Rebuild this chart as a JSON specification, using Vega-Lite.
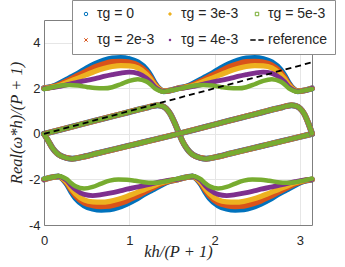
{
  "$schema": "https://vega.github.io/schema/vega-lite/v6.json",
  "width": 268,
  "height": 205,
  "autosize": "none",
  "padding": {"left": 44, "top": 20, "right": 33, "bottom": 42},
  "background": "white",
  "config": {
    "view": {"stroke": "#7f7f7f", "strokeWidth": 1},
    "axis": {
      "labelFont": "Liberation Sans",
      "labelFontSize": 13,
      "labelColor": "#262626",
      "titleFont": "Liberation Serif",
      "titleFontStyle": "italic",
      "titleFontWeight": "normal",
      "titleFontSize": 16.5,
      "titleColor": "#262626",
      "domainColor": "#7f7f7f",
      "gridColor": "#e6e6e6",
      "grid": true,
      "ticks": false
    }
  },
  "layer": [
    {
      "data": {
        "values": [
          {"b": "U", "x": 0, "t0": 2.0, "t2": 2.0, "t3": 2.0, "t4": 2.0, "t5": 1.97},
          {"b": "U", "x": 0.1, "t0": 2.08, "t2": 2.07, "t3": 2.05, "t4": 2.03, "t5": 2.05},
          {"b": "U", "x": 0.2, "t0": 2.25, "t2": 2.2, "t3": 2.15, "t4": 2.1, "t5": 2.12},
          {"b": "U", "x": 0.3, "t0": 2.45, "t2": 2.38, "t3": 2.3, "t4": 2.18, "t5": 2.15},
          {"b": "U", "x": 0.4, "t0": 2.65, "t2": 2.57, "t3": 2.45, "t4": 2.27, "t5": 2.12},
          {"b": "U", "x": 0.5, "t0": 2.88, "t2": 2.76, "t3": 2.6, "t4": 2.35, "t5": 2.06},
          {"b": "U", "x": 0.6, "t0": 3.07, "t2": 2.94, "t3": 2.75, "t4": 2.43, "t5": 2.01},
          {"b": "U", "x": 0.7, "t0": 3.22, "t2": 3.07, "t3": 2.87, "t4": 2.52, "t5": 2.0},
          {"b": "U", "x": 0.8, "t0": 3.31, "t2": 3.16, "t3": 2.96, "t4": 2.6, "t5": 2.05},
          {"b": "U", "x": 0.9, "t0": 3.33, "t2": 3.18, "t3": 3.0, "t4": 2.67, "t5": 2.18},
          {"b": "U", "x": 1.0, "t0": 3.28, "t2": 3.14, "t3": 2.99, "t4": 2.71, "t5": 2.33},
          {"b": "U", "x": 1.1, "t0": 3.14, "t2": 3.02, "t3": 2.9, "t4": 2.66, "t5": 2.4},
          {"b": "U", "x": 1.2, "t0": 2.82, "t2": 2.72, "t3": 2.62, "t4": 2.45, "t5": 2.3},
          {"b": "U", "x": 1.25, "t0": 2.55, "t2": 2.47, "t3": 2.4, "t4": 2.28, "t5": 2.17},
          {"b": "U", "x": 1.3, "t0": 2.22, "t2": 2.18, "t3": 2.14, "t4": 2.06, "t5": 2.0},
          {"b": "U", "x": 1.35, "t0": 1.98, "t2": 1.97, "t3": 1.96, "t4": 1.93, "t5": 1.9},
          {"b": "U", "x": 1.4, "t0": 1.87, "t2": 1.87, "t3": 1.87, "t4": 1.86, "t5": 1.85},
          {"b": "U", "x": 1.47, "t0": 1.9, "t2": 1.9, "t3": 1.9, "t4": 1.9, "t5": 1.9},
          {"b": "U", "x": 1.5708, "t0": 2.0, "t2": 2.0, "t3": 2.0, "t4": 2.0, "t5": 1.97},
          {"b": "U", "x": 1.6708, "t0": 2.08, "t2": 2.07, "t3": 2.05, "t4": 2.03, "t5": 2.05},
          {"b": "U", "x": 1.7708, "t0": 2.25, "t2": 2.2, "t3": 2.15, "t4": 2.1, "t5": 2.12},
          {"b": "U", "x": 1.8708, "t0": 2.45, "t2": 2.38, "t3": 2.3, "t4": 2.18, "t5": 2.15},
          {"b": "U", "x": 1.9708, "t0": 2.65, "t2": 2.57, "t3": 2.45, "t4": 2.27, "t5": 2.12},
          {"b": "U", "x": 2.0708, "t0": 2.88, "t2": 2.76, "t3": 2.6, "t4": 2.35, "t5": 2.06},
          {"b": "U", "x": 2.1708, "t0": 3.07, "t2": 2.94, "t3": 2.75, "t4": 2.43, "t5": 2.01},
          {"b": "U", "x": 2.2708, "t0": 3.22, "t2": 3.07, "t3": 2.87, "t4": 2.52, "t5": 2.0},
          {"b": "U", "x": 2.3708, "t0": 3.31, "t2": 3.16, "t3": 2.96, "t4": 2.6, "t5": 2.05},
          {"b": "U", "x": 2.4708, "t0": 3.33, "t2": 3.18, "t3": 3.0, "t4": 2.67, "t5": 2.18},
          {"b": "U", "x": 2.5708, "t0": 3.28, "t2": 3.14, "t3": 2.99, "t4": 2.71, "t5": 2.33},
          {"b": "U", "x": 2.6708, "t0": 3.14, "t2": 3.02, "t3": 2.9, "t4": 2.66, "t5": 2.4},
          {"b": "U", "x": 2.7708, "t0": 2.82, "t2": 2.72, "t3": 2.62, "t4": 2.45, "t5": 2.3},
          {"b": "U", "x": 2.8208, "t0": 2.55, "t2": 2.47, "t3": 2.4, "t4": 2.28, "t5": 2.17},
          {"b": "U", "x": 2.8708, "t0": 2.22, "t2": 2.18, "t3": 2.14, "t4": 2.06, "t5": 2.0},
          {"b": "U", "x": 2.9208, "t0": 1.98, "t2": 1.97, "t3": 1.96, "t4": 1.93, "t5": 1.9},
          {"b": "U", "x": 2.9708, "t0": 1.87, "t2": 1.87, "t3": 1.87, "t4": 1.86, "t5": 1.85},
          {"b": "U", "x": 3.0408, "t0": 1.9, "t2": 1.9, "t3": 1.9, "t4": 1.9, "t5": 1.9},
          {"b": "U", "x": 3.1416, "t0": 2.0, "t2": 2.0, "t3": 2.0, "t4": 2.0, "t5": 1.97},

          {"b": "L", "x": 0, "t0": -2.0, "t2": -2.0, "t3": -2.0, "t4": -2.0, "t5": -1.97},
          {"b": "L", "x": 0.1008, "t0": -1.9, "t2": -1.9, "t3": -1.9, "t4": -1.9, "t5": -1.9},
          {"b": "L", "x": 0.1708, "t0": -1.87, "t2": -1.87, "t3": -1.87, "t4": -1.86, "t5": -1.85},
          {"b": "L", "x": 0.2208, "t0": -1.98, "t2": -1.97, "t3": -1.96, "t4": -1.93, "t5": -1.9},
          {"b": "L", "x": 0.2708, "t0": -2.22, "t2": -2.18, "t3": -2.14, "t4": -2.06, "t5": -2.0},
          {"b": "L", "x": 0.3208, "t0": -2.55, "t2": -2.47, "t3": -2.4, "t4": -2.28, "t5": -2.17},
          {"b": "L", "x": 0.3708, "t0": -2.82, "t2": -2.72, "t3": -2.62, "t4": -2.45, "t5": -2.3},
          {"b": "L", "x": 0.4708, "t0": -3.14, "t2": -3.02, "t3": -2.9, "t4": -2.66, "t5": -2.4},
          {"b": "L", "x": 0.5708, "t0": -3.28, "t2": -3.14, "t3": -2.99, "t4": -2.71, "t5": -2.33},
          {"b": "L", "x": 0.6708, "t0": -3.33, "t2": -3.18, "t3": -3.0, "t4": -2.67, "t5": -2.18},
          {"b": "L", "x": 0.7708, "t0": -3.31, "t2": -3.16, "t3": -2.96, "t4": -2.6, "t5": -2.05},
          {"b": "L", "x": 0.8708, "t0": -3.22, "t2": -3.07, "t3": -2.87, "t4": -2.52, "t5": -2.0},
          {"b": "L", "x": 0.9708, "t0": -3.07, "t2": -2.94, "t3": -2.75, "t4": -2.43, "t5": -2.01},
          {"b": "L", "x": 1.0708, "t0": -2.88, "t2": -2.76, "t3": -2.6, "t4": -2.35, "t5": -2.06},
          {"b": "L", "x": 1.1708, "t0": -2.65, "t2": -2.57, "t3": -2.45, "t4": -2.27, "t5": -2.12},
          {"b": "L", "x": 1.2708, "t0": -2.45, "t2": -2.38, "t3": -2.3, "t4": -2.18, "t5": -2.15},
          {"b": "L", "x": 1.3708, "t0": -2.25, "t2": -2.2, "t3": -2.15, "t4": -2.1, "t5": -2.12},
          {"b": "L", "x": 1.4708, "t0": -2.08, "t2": -2.07, "t3": -2.05, "t4": -2.03, "t5": -2.05},
          {"b": "L", "x": 1.5708, "t0": -2.0, "t2": -2.0, "t3": -2.0, "t4": -2.0, "t5": -1.97},
          {"b": "L", "x": 1.6716, "t0": -1.9, "t2": -1.9, "t3": -1.9, "t4": -1.9, "t5": -1.9},
          {"b": "L", "x": 1.7416, "t0": -1.87, "t2": -1.87, "t3": -1.87, "t4": -1.86, "t5": -1.85},
          {"b": "L", "x": 1.7916, "t0": -1.98, "t2": -1.97, "t3": -1.96, "t4": -1.93, "t5": -1.9},
          {"b": "L", "x": 1.8416, "t0": -2.22, "t2": -2.18, "t3": -2.14, "t4": -2.06, "t5": -2.0},
          {"b": "L", "x": 1.8916, "t0": -2.55, "t2": -2.47, "t3": -2.4, "t4": -2.28, "t5": -2.17},
          {"b": "L", "x": 1.9416, "t0": -2.82, "t2": -2.72, "t3": -2.62, "t4": -2.45, "t5": -2.3},
          {"b": "L", "x": 2.0416, "t0": -3.14, "t2": -3.02, "t3": -2.9, "t4": -2.66, "t5": -2.4},
          {"b": "L", "x": 2.1416, "t0": -3.28, "t2": -3.14, "t3": -2.99, "t4": -2.71, "t5": -2.33},
          {"b": "L", "x": 2.2416, "t0": -3.33, "t2": -3.18, "t3": -3.0, "t4": -2.67, "t5": -2.18},
          {"b": "L", "x": 2.3416, "t0": -3.31, "t2": -3.16, "t3": -2.96, "t4": -2.6, "t5": -2.05},
          {"b": "L", "x": 2.4416, "t0": -3.22, "t2": -3.07, "t3": -2.87, "t4": -2.52, "t5": -2.0},
          {"b": "L", "x": 2.5416, "t0": -3.07, "t2": -2.94, "t3": -2.75, "t4": -2.43, "t5": -2.01},
          {"b": "L", "x": 2.6416, "t0": -2.88, "t2": -2.76, "t3": -2.6, "t4": -2.35, "t5": -2.06},
          {"b": "L", "x": 2.7416, "t0": -2.65, "t2": -2.57, "t3": -2.45, "t4": -2.27, "t5": -2.12},
          {"b": "L", "x": 2.8416, "t0": -2.45, "t2": -2.38, "t3": -2.3, "t4": -2.18, "t5": -2.15},
          {"b": "L", "x": 2.9416, "t0": -2.25, "t2": -2.2, "t3": -2.15, "t4": -2.1, "t5": -2.12},
          {"b": "L", "x": 3.0416, "t0": -2.08, "t2": -2.07, "t3": -2.05, "t4": -2.03, "t5": -2.05},
          {"b": "L", "x": 3.1416, "t0": -2.0, "t2": -2.0, "t3": -2.0, "t4": -2.0, "t5": -1.97},

          {"b": "A", "x": 0, "t0": 0, "t2": 0, "t3": 0, "t4": 0, "t5": 0},
          {"b": "A", "x": 0.2, "t0": 0.19, "t2": 0.19, "t3": 0.19, "t4": 0.19, "t5": 0.19},
          {"b": "A", "x": 0.4, "t0": 0.385, "t2": 0.385, "t3": 0.385, "t4": 0.385, "t5": 0.385},
          {"b": "A", "x": 0.6, "t0": 0.58, "t2": 0.58, "t3": 0.58, "t4": 0.58, "t5": 0.58},
          {"b": "A", "x": 0.8, "t0": 0.77, "t2": 0.77, "t3": 0.77, "t4": 0.77, "t5": 0.77},
          {"b": "A", "x": 1.0, "t0": 0.96, "t2": 0.96, "t3": 0.96, "t4": 0.96, "t5": 0.96},
          {"b": "A", "x": 1.1, "t0": 1.06, "t2": 1.06, "t3": 1.06, "t4": 1.06, "t5": 1.06},
          {"b": "A", "x": 1.2, "t0": 1.15, "t2": 1.15, "t3": 1.15, "t4": 1.15, "t5": 1.15},
          {"b": "A", "x": 1.27, "t0": 1.22, "t2": 1.22, "t3": 1.22, "t4": 1.22, "t5": 1.22},
          {"b": "A", "x": 1.33, "t0": 1.26, "t2": 1.26, "t3": 1.26, "t4": 1.26, "t5": 1.26},
          {"b": "A", "x": 1.38, "t0": 1.23, "t2": 1.23, "t3": 1.23, "t4": 1.23, "t5": 1.23},
          {"b": "A", "x": 1.43, "t0": 1.12, "t2": 1.12, "t3": 1.12, "t4": 1.12, "t5": 1.12},
          {"b": "A", "x": 1.48, "t0": 0.88, "t2": 0.88, "t3": 0.88, "t4": 0.88, "t5": 0.88},
          {"b": "A", "x": 1.53, "t0": 0.5, "t2": 0.5, "t3": 0.5, "t4": 0.5, "t5": 0.5},
          {"b": "A", "x": 1.58, "t0": 0.05, "t2": 0.05, "t3": 0.05, "t4": 0.05, "t5": 0.05},
          {"b": "A", "x": 1.62, "t0": -0.3, "t2": -0.3, "t3": -0.3, "t4": -0.3, "t5": -0.3},
          {"b": "A", "x": 1.67, "t0": -0.62, "t2": -0.62, "t3": -0.62, "t4": -0.62, "t5": -0.62},
          {"b": "A", "x": 1.72, "t0": -0.84, "t2": -0.84, "t3": -0.84, "t4": -0.84, "t5": -0.84},
          {"b": "A", "x": 1.77, "t0": -0.97, "t2": -0.97, "t3": -0.97, "t4": -0.97, "t5": -0.97},
          {"b": "A", "x": 1.83, "t0": -1.05, "t2": -1.05, "t3": -1.05, "t4": -1.05, "t5": -1.05},
          {"b": "A", "x": 1.9, "t0": -1.09, "t2": -1.09, "t3": -1.09, "t4": -1.09, "t5": -1.09},
          {"b": "A", "x": 2.0, "t0": -1.03, "t2": -1.03, "t3": -1.03, "t4": -1.03, "t5": -1.03},
          {"b": "A", "x": 2.2, "t0": -0.85, "t2": -0.85, "t3": -0.85, "t4": -0.85, "t5": -0.85},
          {"b": "A", "x": 2.4, "t0": -0.67, "t2": -0.67, "t3": -0.67, "t4": -0.67, "t5": -0.67},
          {"b": "A", "x": 2.6, "t0": -0.49, "t2": -0.49, "t3": -0.49, "t4": -0.49, "t5": -0.49},
          {"b": "A", "x": 2.8, "t0": -0.31, "t2": -0.31, "t3": -0.31, "t4": -0.31, "t5": -0.31},
          {"b": "A", "x": 3.0, "t0": -0.13, "t2": -0.13, "t3": -0.13, "t4": -0.13, "t5": -0.13},
          {"b": "A", "x": 3.1416, "t0": 0, "t2": 0, "t3": 0, "t4": 0, "t5": 0},

          {"b": "B", "x": 0, "t0": 0, "t2": 0, "t3": 0, "t4": 0, "t5": 0},
          {"b": "B", "x": 0.0492, "t0": -0.3, "t2": -0.3, "t3": -0.3, "t4": -0.3, "t5": -0.3},
          {"b": "B", "x": 0.0992, "t0": -0.62, "t2": -0.62, "t3": -0.62, "t4": -0.62, "t5": -0.62},
          {"b": "B", "x": 0.1492, "t0": -0.84, "t2": -0.84, "t3": -0.84, "t4": -0.84, "t5": -0.84},
          {"b": "B", "x": 0.1992, "t0": -0.97, "t2": -0.97, "t3": -0.97, "t4": -0.97, "t5": -0.97},
          {"b": "B", "x": 0.2592, "t0": -1.05, "t2": -1.05, "t3": -1.05, "t4": -1.05, "t5": -1.05},
          {"b": "B", "x": 0.3292, "t0": -1.09, "t2": -1.09, "t3": -1.09, "t4": -1.09, "t5": -1.09},
          {"b": "B", "x": 0.4292, "t0": -1.03, "t2": -1.03, "t3": -1.03, "t4": -1.03, "t5": -1.03},
          {"b": "B", "x": 0.6292, "t0": -0.85, "t2": -0.85, "t3": -0.85, "t4": -0.85, "t5": -0.85},
          {"b": "B", "x": 0.8292, "t0": -0.67, "t2": -0.67, "t3": -0.67, "t4": -0.67, "t5": -0.67},
          {"b": "B", "x": 1.0292, "t0": -0.49, "t2": -0.49, "t3": -0.49, "t4": -0.49, "t5": -0.49},
          {"b": "B", "x": 1.2292, "t0": -0.31, "t2": -0.31, "t3": -0.31, "t4": -0.31, "t5": -0.31},
          {"b": "B", "x": 1.4292, "t0": -0.13, "t2": -0.13, "t3": -0.13, "t4": -0.13, "t5": -0.13},
          {"b": "B", "x": 1.5708, "t0": 0, "t2": 0, "t3": 0, "t4": 0, "t5": 0},
          {"b": "B", "x": 1.7708, "t0": 0.19, "t2": 0.19, "t3": 0.19, "t4": 0.19, "t5": 0.19},
          {"b": "B", "x": 1.9708, "t0": 0.385, "t2": 0.385, "t3": 0.385, "t4": 0.385, "t5": 0.385},
          {"b": "B", "x": 2.1708, "t0": 0.58, "t2": 0.58, "t3": 0.58, "t4": 0.58, "t5": 0.58},
          {"b": "B", "x": 2.3708, "t0": 0.77, "t2": 0.77, "t3": 0.77, "t4": 0.77, "t5": 0.77},
          {"b": "B", "x": 2.5708, "t0": 0.96, "t2": 0.96, "t3": 0.96, "t4": 0.96, "t5": 0.96},
          {"b": "B", "x": 2.6708, "t0": 1.06, "t2": 1.06, "t3": 1.06, "t4": 1.06, "t5": 1.06},
          {"b": "B", "x": 2.7708, "t0": 1.15, "t2": 1.15, "t3": 1.15, "t4": 1.15, "t5": 1.15},
          {"b": "B", "x": 2.8408, "t0": 1.22, "t2": 1.22, "t3": 1.22, "t4": 1.22, "t5": 1.22},
          {"b": "B", "x": 2.9008, "t0": 1.26, "t2": 1.26, "t3": 1.26, "t4": 1.26, "t5": 1.26},
          {"b": "B", "x": 2.9508, "t0": 1.23, "t2": 1.23, "t3": 1.23, "t4": 1.23, "t5": 1.23},
          {"b": "B", "x": 3.0008, "t0": 1.12, "t2": 1.12, "t3": 1.12, "t4": 1.12, "t5": 1.12},
          {"b": "B", "x": 3.0508, "t0": 0.88, "t2": 0.88, "t3": 0.88, "t4": 0.88, "t5": 0.88},
          {"b": "B", "x": 3.1008, "t0": 0.45, "t2": 0.45, "t3": 0.45, "t4": 0.45, "t5": 0.45},
          {"b": "B", "x": 3.1416, "t0": 0.02, "t2": 0.02, "t3": 0.02, "t4": 0.02, "t5": 0.02}
        ]
      },
      "transform": [{"fold": ["t0", "t2", "t3", "t4", "t5"], "as": ["tau", "y"]}],
      "mark": {"type": "line", "interpolate": "monotone", "strokeCap": "round", "strokeJoin": "round"},
      "encoding": {
        "x": {
          "field": "x", "type": "quantitative",
          "scale": {"domain": [0, 3.1416], "nice": false, "zero": false},
          "axis": {
            "title": "kh/(P + 1)",
            "values": [0, 1, 2, 3],
            "labelExpr": "'' + datum.value",
            "labelPadding": 9,
            "labelFlush": false,
            "titleY": 31,
            "titleBaseline": "alphabetic"
          }
        },
        "y": {
          "field": "y", "type": "quantitative",
          "scale": {"domain": [-4, 5], "nice": false, "zero": false},
          "axis": {
            "title": "Real(ω*h)/(P + 1)",
            "values": [-4, -2, 0, 2, 4],
            "labelExpr": "'' + datum.value",
            "labelPadding": 4,
            "labelFlush": false,
            "titleX": -23,
            "titleBaseline": "alphabetic"
          }
        },
        "color": {
          "field": "tau", "type": "nominal",
          "scale": {
            "domain": ["t0", "t2", "t3", "t4", "t5", "ref"],
            "range": ["#0072BD", "#D95319", "#EDB120", "#7E2F8E", "#77AC30", "#000000"]
          },
          "legend": {
            "title": null,
            "orient": "none",
            "legendX": 28,
            "legendY": -20,
            "columns": 3,
            "columnPadding": 8,
            "rowPadding": 12,
            "padding": 7,
            "fillColor": "white",
            "strokeColor": "#8c8c8c",
            "labelFont": "Liberation Sans",
            "labelFontSize": 14,
            "labelColor": "#262626",
            "labelOffset": 4,
            "symbolSize": 180,
            "labelExpr": "datum.value === 't0' ? 'τg = 0' : datum.value === 't2' ? 'τg = 2e-3' : datum.value === 't3' ? 'τg = 3e-3' : datum.value === 't4' ? 'τg = 4e-3' : datum.value === 't5' ? 'τg = 5e-3' : 'reference'",
            "encode": {
              "symbols": {
                "update": {
                  "shape": {"signal": "datum.value === 't0' ? 'circle' : datum.value === 't2' ? 'M-1,-1L1,1M-1,1L1,-1' : datum.value === 't3' ? 'circle' : datum.value === 't4' ? 'M-1,0L1,0M0,-1L0,1M-0.7,-0.7L0.7,0.7M-0.7,0.7L0.7,-0.7' : datum.value === 't5' ? 'square' : 'M-1,0H-0.2M0.2,0H1'"},
                  "size": {"signal": "datum.value === 'ref' ? 180 : (datum.value === 't3' || datum.value === 't4') ? 6 : 12"},
                  "fill": {"signal": "datum.value === 't3' ? scale('color', datum.value) : 'transparent'"},
                  "stroke": {"signal": "scale('color', datum.value)"},
                  "strokeWidth": {"signal": "datum.value === 'ref' ? 1.6 : 1"},
                  "strokeDash": {"value": []},
                  "opacity": {"value": 1}
                }
              }
            }
          }
        },
        "strokeWidth": {
          "field": "tau", "type": "nominal",
          "scale": {"domain": ["t0", "t2", "t3", "t4", "t5"], "range": [6, 4.5, 4.5, 4.5, 5]},
          "legend": null
        },
        "detail": {"field": "b", "type": "nominal"}
      }
    },
    {
      "data": {"values": [{"x": 0, "y": 0, "tau": "ref"}, {"x": 3.1416, "y": 3.1416, "tau": "ref"}]},
      "mark": {"type": "line", "strokeDash": [6, 4], "strokeWidth": 1.8},
      "encoding": {
        "x": {"field": "x", "type": "quantitative"},
        "y": {"field": "y", "type": "quantitative"},
        "color": {"field": "tau", "type": "nominal"}
      }
    }
  ]
}
